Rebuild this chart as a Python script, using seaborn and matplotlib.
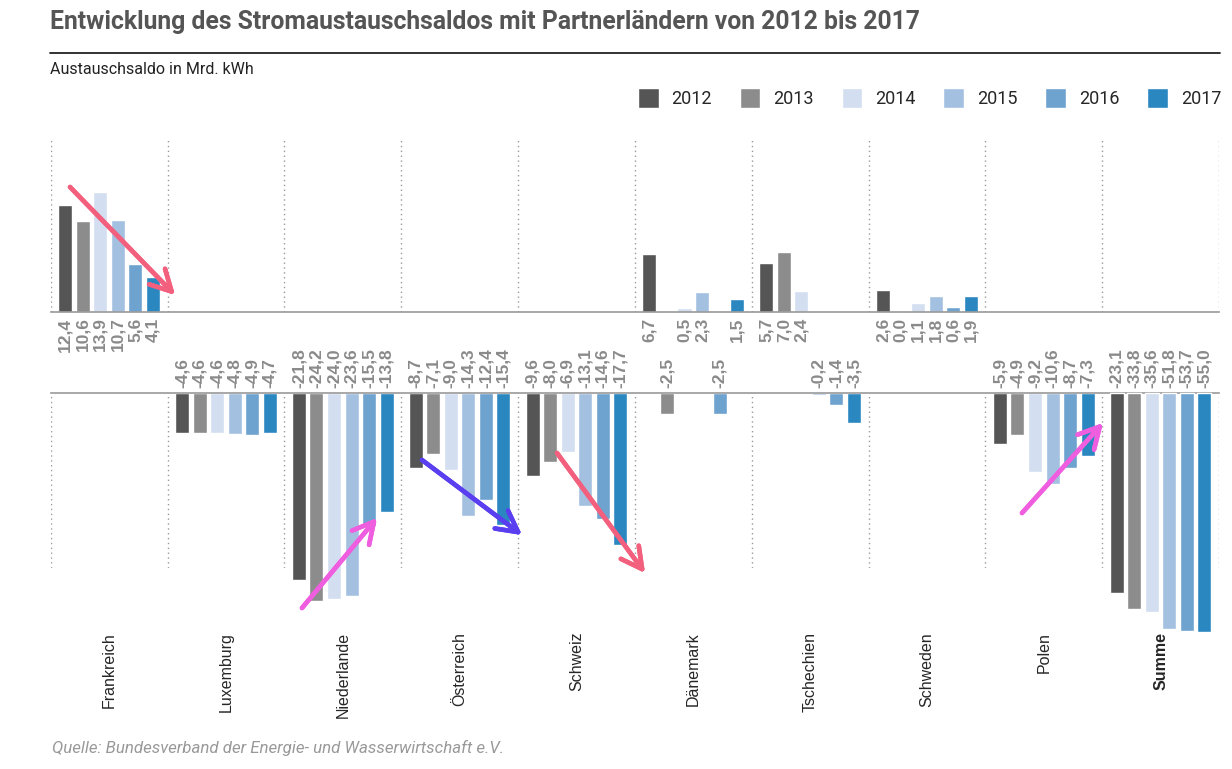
import seaborn as sns
import matplotlib.pyplot as plt
import matplotlib.lines as mlines
import pandas as pd
import numpy as np

sns.set_style("white")
plt.rcParams['font.family'] = ['Roboto', 'DejaVu Sans']

# data (Mrd. kWh)
countries = ["Frankreich", "Luxemburg", "Niederlande", "Österreich", "Schweiz",
             "Dänemark", "Tschechien", "Schweden", "Polen", "Summe"]
years = ["2012", "2013", "2014", "2015", "2016", "2017"]
v2012 = [12.4, -4.6, -21.8, -8.7, -9.6, 6.7, 5.7, 2.6, -5.9, -23.1]
v2013 = [10.6, -4.6, -24.2, -7.1, -8.0, -2.5, 7.0, 0.0, -4.9, -33.8]
v2014 = [13.9, -4.6, -24.0, -9.0, -6.9, 0.5, 2.4, 1.1, -9.2, -35.6]
v2015 = [10.7, -4.8, -23.6, -14.3, -13.1, 2.3, -0.2, 1.8, -10.6, -51.8]
v2016 = [5.6, -4.9, -15.5, -12.4, -14.6, -2.5, -1.4, 0.6, -8.7, -53.7]
v2017 = [4.1, -4.7, -13.8, -15.4, -17.7, 1.5, -3.5, 1.9, -7.3, -55.0]
colors = ["#555555", "#8c8c8c", "#d3def0", "#a4c0e0", "#6ea3d0", "#2a87c0"]

rows = []
for y, vals in zip(years, [v2012, v2013, v2014, v2015, v2016, v2017]):
    for c, v in zip(countries, vals):
        rows.append({"Land": c, "Jahr": y, "Wert": v})
df = pd.DataFrame(rows)
palette = dict(zip(years, colors))

pos = df[df["Wert"] >= 0]
neg = df[(df["Wert"] < 0) & (df["Land"] != "Summe")]
tot = df[df["Land"] == "Summe"]

W, H = 1232, 769
fig = plt.figure(figsize=(W / 100, H / 100), dpi=100)
left, width = 50.7 / W, (1219 - 50.7) / W
ax_top = fig.add_axes([left, 1 - 312 / H, width, 174 / H])
ax_bot = fig.add_axes([left, 1 - 568 / H, width, 175 / H])
ax_sum = fig.add_axes([left, 1 - 568 / H, width, 175 / H])

# Summe on own (compressed) scale, like the original
p = 0.205
ax_sum.set_yscale("function", functions=(lambda v: np.sign(v) * np.abs(v) ** p,
                                          lambda u: np.sign(u) * np.abs(u) ** (1 / p)))

common = dict(x="Land", y="Wert", hue="Jahr", order=countries, hue_order=years,
              palette=palette, errorbar=None, width=0.9, gap=0.2, saturation=1)
sns.barplot(data=pos, ax=ax_top, **common)
sns.barplot(data=neg, ax=ax_bot, legend=False, **common)
sns.barplot(data=tot, ax=ax_sum, legend=False, **common)

ax_top.set_ylim(0, 20.2)
ax_bot.set_ylim(-20.35, 0)
ax_sum.set_ylim(-12.0, 0)

lab_kw = dict(rotation=90, ha="center", textcoords="offset points",
              fontsize=12.5, fontweight="bold", color="#8a8a8a",
              family=["Liberation Sans", "DejaVu Sans"], annotation_clip=False)
for ax in (ax_top, ax_bot, ax_sum):
    ax.set_xlim(-0.5, len(countries) - 0.5)
    ax.set_xlabel("")
    ax.set_ylabel("")
    ax.set_yticks([])
    ax.patch.set_alpha(0)
    for s in ax.spines.values():
        s.set_visible(False)
    for cont in ax.containers:
        for bar in cont:
            bar.set_clip_on(False)
            h = bar.get_height()
            if np.isnan(h):
                continue
            x = bar.get_x() + bar.get_width() / 2
            txt = f"{h:.1f}".replace(".", ",")
            if ax is ax_top:
                ax.annotate(txt, (x, 0), xytext=(0, -4), va="top", **lab_kw)
            else:
                ax.annotate(txt, (x, 0), xytext=(0, 3.5), va="bottom", **lab_kw)

for ax in (ax_top, ax_bot):
    for b in np.arange(-0.5, len(countries), 1.0):
        ax.axvline(b, color="#999999", lw=1, ls=(0, (1, 2.5)), zorder=0)

ax_top.spines["bottom"].set_visible(True)
ax_top.spines["bottom"].set_color("#999999")
ax_top.spines["bottom"].set_linewidth(1.2)
ax_top.set_xticks([])
ax_bot.spines["top"].set_visible(True)
ax_bot.spines["top"].set_color("#999999")
ax_bot.spines["top"].set_linewidth(1.2)
ax_sum.set_xticks([])

ax_bot.set_xticks(range(len(countries)))
ax_bot.set_xticklabels(countries, rotation=90, fontsize=11.5,
                       family=["Liberation Sans", "DejaVu Sans"])
ax_bot.tick_params(axis="x", length=0, pad=46)
ax_bot.get_xticklabels()[-1].set_fontweight("bold")

# legend
sns.move_legend(ax_top, loc="center right", bbox_to_anchor=(1221 / W, 1 - 98 / H),
                bbox_transform=fig.transFigure, ncol=6, title=None, frameon=False,
                fontsize=13, handlelength=1.15, handleheight=1.4,
                handletextpad=0.7, columnspacing=1.55, borderpad=0, borderaxespad=0)

# title etc.
fig.text(50 / W, 1 - 22 / H, "Entwicklung des Stromaustauschsaldos mit Partnerländern von 2012 bis 2017",
         fontsize=17.8, fontweight="bold", color="#555555", va="center")
fig.add_artist(mlines.Line2D([50 / W, 1220 / W], [1 - 53 / H, 1 - 53 / H],
                             color="#222222", lw=1.3))
fig.text(50 / W, 1 - 70 / H, "Austauschsaldo in Mrd. kWh", fontsize=11.5,
         color="#222222", va="center")
fig.text(52 / W, 1 - 748 / H, "Quelle: Bundesverband der Energie- und Wasserwirtschaft e.V.",
         fontsize=12.2, style="italic", color="#999999", va="center")

# hand-drawn trend arrows (image pixel positions)
arrows = [((70, 187), (175, 295), "#f2607e"),
          ((302, 608), (377, 518), "#f05ee0"),
          ((422, 460), (522, 535), "#5a3ff0"),
          ((557, 453), (645, 573), "#f2607e"),
          ((1022, 513), (1103, 423), "#f05ee0")]
for (x0, y0), (x1, y1), col in arrows:
    fig.add_artist(plt.annotate("", xy=(x1 / W, 1 - y1 / H), xytext=(x0 / W, 1 - y0 / H),
                                xycoords="figure fraction", textcoords="figure fraction",
                                arrowprops=dict(arrowstyle="->,head_length=0.75,head_width=0.4",
                                                lw=3.3, color=col, mutation_scale=20,
                                                shrinkA=0, shrinkB=0)))

fig.savefig("out.png", dpi=100)
plt.close()
